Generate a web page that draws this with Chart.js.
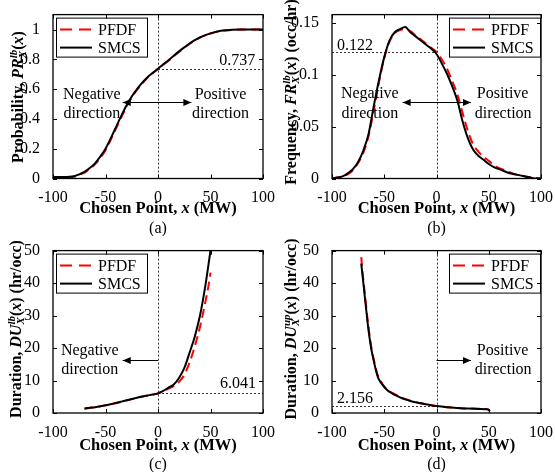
<!DOCTYPE html>
<html>
<head>
<meta charset="utf-8">
<script src="https://cdn.jsdelivr.net/npm/chart.js@4.4.0/dist/chart.umd.min.js"></script>
<style>
body { margin: 0; background: #fff; width: 555px; height: 472px; position: relative; overflow: hidden; }
canvas { position: absolute; }
</style>
</head>
<body>
<canvas id="ca" style="left:0;top:0" width="277" height="236"></canvas>
<canvas id="cb" style="left:277px;top:0" width="278" height="236"></canvas>
<canvas id="cc" style="left:0;top:236px" width="277" height="236"></canvas>
<canvas id="cd" style="left:277px;top:236px" width="278" height="236"></canvas>
<script>
// tick values
var xTicks = [-100, -50, 0, 50, 100];
var yTicksA = [0, 0.2, 0.4, 0.6, 0.8, 1];
var yTicksB = [0, 0.05, 0.1, 0.15];
var yTicksCD = [0, 10, 20, 30, 40, 50];
var seriesNames = ['PFDF', 'SMCS'];

// (a) probability
var xA = [-100,-90,-80,-75,-70,-65,-60,-55,-50,-45,-40,-35,-30,-25,-20,-15,-10,-5,0,5,10,15,20,25,30,35,40,45,50,55,60,65,70,80,90,100];
var smcsA = [0.01,0.01,0.015,0.028,0.045,0.07,0.102,0.147,0.2,0.27,0.345,0.42,0.49,0.55,0.6,0.643,0.68,0.709,0.737,0.766,0.794,0.824,0.853,0.88,0.906,0.928,0.947,0.962,0.974,0.984,0.991,0.995,0.998,1,1,1];
var pfdfA = [0.008,0.008,0.012,0.025,0.04,0.064,0.095,0.138,0.19,0.26,0.335,0.41,0.482,0.543,0.594,0.638,0.676,0.706,0.734,0.762,0.79,0.82,0.85,0.877,0.903,0.925,0.945,0.96,0.973,0.983,0.99,0.994,0.997,1,1,1];

// (b) frequency
var xB = [-100,-95,-90,-85,-80,-75,-70,-65,-60,-55,-50,-45,-40,-35,-30,-25,-20,-15,-10,-5,0,5,10,15,20,25,30,35,40,45,50,55,60,65,70,75,80,85,90,95,100];
var smcsB = [0,0.001,0.002,0.005,0.009,0.016,0.027,0.043,0.07,0.095,0.117,0.133,0.141,0.144,0.146,0.141,0.137,0.133,0.129,0.125,0.12,0.111,0.101,0.089,0.075,0.055,0.039,0.028,0.022,0.018,0.014,0.011,0.009,0.007,0.005,0.004,0.003,0.002,0.001,0,0];
var pfdfB = [0,0.001,0.002,0.004,0.008,0.015,0.025,0.041,0.066,0.093,0.116,0.132,0.14,0.143,0.144,0.142,0.138,0.134,0.13,0.126,0.122,0.115,0.106,0.094,0.081,0.063,0.046,0.033,0.026,0.021,0.017,0.013,0.01,0.008,0.006,0.004,0.003,0.002,0.001,0.0005,0];

// (c) duration, lower bound
var xSC = [-70,-65,-60,-55,-50,-45,-40,-35,-30,-25,-20,-15,-10,-5,0,5,10,15,20,25,30,35,40,45,48,50];
var smcsC = [1.4,1.6,1.8,2.1,2.4,2.7,3.1,3.5,3.9,4.3,4.7,5.1,5.4,5.7,6.04,6.8,7.8,8.8,10.8,13.8,18.5,23.5,30,39,45.5,50];
var xPC = [-70,-60,-50,-40,-30,-20,-10,0,5,10,15,20,25,30,35,40,45,48,50];
var pfdfC = [1.3,1.75,2.35,3.05,3.85,4.65,5.35,6.04,6.7,7.5,8.3,9.6,11.7,15.5,20.5,26.5,34,39,43.2];

// (d) duration, upper bound
var xSD = [-72,-71,-70,-68,-66,-64,-62,-60,-58,-56,-52,-48,-44,-40,-35,-30,-25,-20,-15,-10,-5,0,10,20,30,40,48,50,51];
var smcsD = [46,43,40,34,28,23,19,16,13.2,11,8.8,7.3,6.3,5.6,4.8,4.2,3.7,3.3,3.0,2.7,2.4,2.156,1.8,1.55,1.35,1.25,1.15,1.0,0.5];
var xPD = [-72,-71,-70,-68,-66,-64,-62,-60,-58,-56,-52,-48,-44,-40,-35,-30,-25,-20,-15,-10,-5,0,10,20,30,40,48,50];
var pfdfD = [48,44,41,35,29,23.8,19.6,16.5,13.6,11.4,9.1,7.5,6.5,5.8,4.95,4.3,3.8,3.35,3.0,2.7,2.4,2.156,1.8,1.55,1.4,1.3,1.2,1.0];

var SERIF = '"Liberation Serif", "Times New Roman", serif';
Chart.defaults.font.family = SERIF;
Chart.defaults.font.size = 16;
Chart.defaults.color = '#000';

function pts(xs, ys) {
  return xs.map(function (x, i) { return { x: x, y: ys[i] }; });
}

// draw a line of mixed-font text centred on (cx, cy), optionally rotated
function drawRich(ctx, segs, cx, cy, rot) {
  ctx.save();
  ctx.translate(cx, cy);
  if (rot) ctx.rotate(-Math.PI / 2);
  var w = 0;
  segs.forEach(function (s) {
    ctx.font = s.f;
    s.w = s.sub ? Math.max(ctx.measureText(s.sup).width, ctx.measureText(s.sub).width)
                : ctx.measureText(s.t).width;
    w += s.w;
  });
  var x = -w / 2;
  ctx.textBaseline = 'alphabetic';
  ctx.textAlign = 'left';
  ctx.fillStyle = '#000';
  segs.forEach(function (s) {
    ctx.font = s.f;
    if (s.sub) {
      ctx.fillText(s.sup, x, -1);
      ctx.fillText(s.sub, x, 8);
    } else {
      ctx.fillText(s.t, x, 5);
    }
    x += s.w;
  });
  ctx.restore();
}

var B = 'bold 16px ' + SERIF, BI = 'italic bold 16px ' + SERIF, SM = 'italic bold 11px ' + SERIF;
function yTitle(pre, sym, sup, post) {
  return [{ t: pre, f: B }, { t: sym, f: BI }, { sup: sup, sub: 'X', f: SM },
          { t: '(', f: B }, { t: 'x', f: BI }, { t: ')' + post, f: B }];
}
var xTitle = [{ t: 'Chosen Point, ', f: 'bold 16.5px ' + SERIF }, { t: 'x', f: 'italic bold 16.5px ' + SERIF },
              { t: ' (MW)', f: 'bold 16.5px ' + SERIF }];

function arrowHead(ctx, x, y, dir) {
  ctx.beginPath();
  ctx.moveTo(x, y);
  ctx.lineTo(x - dir * 8, y - 3.5);
  ctx.lineTo(x - dir * 8, y + 3.5);
  ctx.closePath();
  ctx.fill();
}

var decor = {
  id: 'decor',
  beforeDatasetsDraw: function (chart, args, o) {
    var ctx = chart.ctx, a = chart.chartArea, xs = chart.scales.x, ys = chart.scales.y;
    ctx.save();
    ctx.strokeStyle = '#000';
    ctx.lineWidth = 0.8;
    ctx.setLineDash([2, 2]);
    ctx.beginPath();
    var x0 = Math.round(xs.getPixelForValue(0)) + 0.5;
    ctx.moveTo(x0, a.top); ctx.lineTo(x0, a.bottom);
    var hy = Math.round(ys.getPixelForValue(o.hline.y)) + 0.5;
    ctx.moveTo(xs.getPixelForValue(o.hline.from), hy);
    ctx.lineTo(xs.getPixelForValue(o.hline.to), hy);
    ctx.stroke();
    ctx.restore();
  },
  afterDraw: function (chart, args, o) {
    var ctx = chart.ctx, a = chart.chartArea, xs = chart.scales.x, ys = chart.scales.y;
    ctx.save();
    // text notes
    ctx.fillStyle = '#000';
    ctx.font = '16px ' + SERIF;
    ctx.textAlign = 'center';
    ctx.textBaseline = 'middle';
    o.notes.forEach(function (n) {
      ctx.fillText(n.t, xs.getPixelForValue(n.x), ys.getPixelForValue(n.y));
    });
    // arrow
    var ar = o.arrow, ay = Math.round(ys.getPixelForValue(ar.y)) + 0.5;
    var p0 = xs.getPixelForValue(ar.x0), p1 = xs.getPixelForValue(ar.x1);
    ctx.strokeStyle = '#000';
    ctx.lineWidth = 1;
    ctx.beginPath(); ctx.moveTo(p0, ay); ctx.lineTo(p1, ay); ctx.stroke();
    arrowHead(ctx, p1, ay, p1 > p0 ? 1 : -1);
    if (ar.both) arrowHead(ctx, p0, ay, p1 > p0 ? -1 : 1);
    // legend
    var lw = 92, lh = 40;
    var lx = o.legendRight ? a.right - lw : a.left + 3, ly = a.top + 3;
    ctx.fillStyle = '#fff';
    ctx.fillRect(lx, ly, lw, lh);
    ctx.strokeStyle = '#000';
    ctx.lineWidth = 1;
    ctx.strokeRect(lx + 0.5, ly + 0.5, lw - 1, lh - 1);
    chart.data.datasets.forEach(function (ds, i) {
      var ry = ly + 12 + i * 18;
      ctx.strokeStyle = ds.borderColor;
      ctx.lineWidth = 2;
      ctx.setLineDash(ds.borderDash ? [12, 7] : []);
      ctx.beginPath(); ctx.moveTo(lx + 4, ry); ctx.lineTo(lx + 36, ry); ctx.stroke();
      ctx.setLineDash([]);
      ctx.fillStyle = '#000';
      ctx.textAlign = 'left';
      ctx.font = '16px ' + SERIF;
      ctx.fillText(ds.label, lx + 42, ry + 1);
    });
    // frame with inward ticks
    ctx.strokeStyle = '#000';
    ctx.lineWidth = 1.3;
    ctx.strokeRect(a.left, a.top, a.right - a.left, a.bottom - a.top);
    ctx.lineWidth = 1;
    ctx.beginPath();
    xs.ticks.forEach(function (t) {
      var px = Math.round(xs.getPixelForValue(t.value)) + 0.5;
      ctx.moveTo(px, a.bottom); ctx.lineTo(px, a.bottom - 4);
      ctx.moveTo(px, a.top); ctx.lineTo(px, a.top + 4);
    });
    ys.ticks.forEach(function (t) {
      var py = Math.round(ys.getPixelForValue(t.value)) + 0.5;
      ctx.moveTo(a.left, py); ctx.lineTo(a.left + 4, py);
      ctx.moveTo(a.right, py); ctx.lineTo(a.right - 4, py);
    });
    ctx.stroke();
    // titles
    var cx = (a.left + a.right) / 2;
    drawRich(ctx, xTitle, cx, o.xTitleY, false);
    drawRich(ctx, o.yTitle, o.yTitleX, o.yTitleY, true);
    ctx.font = '16px ' + SERIF;
    ctx.textAlign = 'center';
    ctx.textBaseline = 'middle';
    ctx.fillStyle = '#000';
    ctx.fillText(o.tag, cx, o.tagY);
    ctx.restore();
  }
};

function makeChart(id, p) {
  return new Chart(document.getElementById(id), {
    type: 'line',
    data: {
      datasets: [
        { label: seriesNames[0], data: pts(p.xP, p.yP), borderColor: '#ff0000', borderDash: [9, 5],
          borderWidth: 2, pointRadius: 0, cubicInterpolationMode: 'monotone', order: 2 },
        { label: seriesNames[1], data: pts(p.xS, p.yS), borderColor: '#000000',
          borderWidth: 2, pointRadius: 0, cubicInterpolationMode: 'monotone', order: 1 }
      ]
    },
    options: {
      responsive: false,
      animation: false,
      layout: { padding: { top: 10, right: 13, left: 0, bottom: 0 } },
      plugins: { legend: { display: false }, tooltip: { enabled: false }, decor: p.decor },
      scales: {
        x: {
          type: 'linear', min: -100, max: 100,
          afterBuildTicks: function (s) { s.ticks = xTicks.map(function (v) { return { value: v }; }); },
          afterFit: function (s) { s.height = p.xh; },
          grid: { display: false }, border: { display: false },
          ticks: { padding: 2, maxRotation: 0, callback: function (v) { return String(v); } }
        },
        y: {
          type: 'linear', min: 0, max: p.ymax,
          afterBuildTicks: function (s) { s.ticks = p.yTicks.map(function (v) { return { value: v }; }); },
          afterFit: function (s) { s.width = p.yw; },
          grid: { display: false }, border: { display: false },
          ticks: { padding: 5, callback: function (v) { return String(v); } }
        }
      }
    },
    plugins: [decor]
  });
}

makeChart('ca', {
  xP: xA, yP: pfdfA, xS: xA, yS: smcsA, ymax: 1.1, yTicks: yTicksA, xh: 57.5, yw: 53,
  decor: {
    hline: { y: 0.737, from: 0, to: 100 },
    arrow: { x0: -33.6, x1: 31.8, y: 0.513, both: true },
    notes: [{ t: '0.737', x: 75.4, y: 0.79 }, { t: 'Negative', x: -63, y: 0.562 }, { t: 'direction', x: -63, y: 0.432 },
            { t: 'Positive', x: 59.5, y: 0.562 }, { t: 'direction', x: 59.5, y: 0.432 }],
    legendRight: false, yTitle: yTitle('Probability, ', 'PR', 'lb', ''), yTitleX: 18, yTitleY: 97,
    xTitleY: 208, tag: '(a)', tagY: 229
  }
});

makeChart('cb', {
  xP: xB, yP: pfdfB, xS: xB, yS: smcsB, ymax: 0.158, yTicks: yTicksB, xh: 57.5, yw: 55,
  decor: {
    hline: { y: 0.122, from: -100, to: 0 },
    arrow: { x0: -32.4, x1: 33, y: 0.074, both: true },
    notes: [{ t: '0.122', x: -78.1, y: 0.1276 }, { t: 'Negative', x: -63.8, y: 0.0814 }, { t: 'direction', x: -63.8, y: 0.0625 },
            { t: 'Positive', x: 63.3, y: 0.0814 }, { t: 'direction', x: 63.8, y: 0.0625 }],
    legendRight: true, yTitle: yTitle('Frequency, ', 'FR', 'lb', ' (occ/hr)'), yTitleX: 14, yTitleY: 92,
    xTitleY: 208, tag: '(b)', tagY: 229
  }
});

makeChart('cc', {
  xP: xPC, yP: pfdfC, xS: xSC, yS: smcsC, ymax: 50, yTicks: yTicksCD, xh: 59, yw: 53,
  decor: {
    hline: { y: 6.041, from: 0, to: 100 },
    arrow: { x0: 0, x1: -33.6, y: 16.3, both: false },
    notes: [{ t: '6.041', x: 76.3, y: 9.0 }, { t: 'Negative', x: -65, y: 19.2 }, { t: 'direction', x: -65, y: 13.2 }],
    legendRight: false, yTitle: yTitle('Duration, ', 'DU', 'lb', ' (hr/occ)'), yTitleX: 16, yTitleY: 93,
    xTitleY: 209, tag: '(c)', tagY: 229
  }
});

makeChart('cd', {
  xP: xPD, yP: pfdfD, xS: xSD, yS: smcsD, ymax: 50, yTicks: yTicksCD, xh: 59, yw: 55,
  decor: {
    hline: { y: 2.156, from: -100, to: 0 },
    arrow: { x0: 0, x1: 33, y: 16.3, both: false },
    notes: [{ t: '2.156', x: -78.1, y: 4.5 }, { t: 'Positive', x: 63.3, y: 19.2 }, { t: 'direction', x: 63.8, y: 13.2 }],
    legendRight: true, yTitle: yTitle('Duration, ', 'DU', 'up', ' (hr/occ)'), yTitleX: 14, yTitleY: 93,
    xTitleY: 209, tag: '(d)', tagY: 229
  }
});
</script>
</body>
</html>
